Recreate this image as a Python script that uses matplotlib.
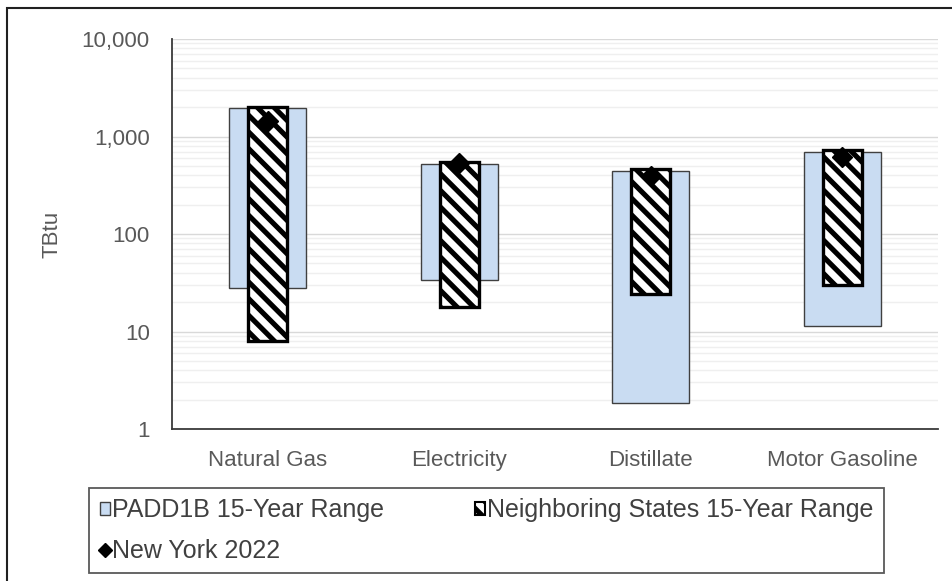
import matplotlib
matplotlib.use("Agg")
import matplotlib.pyplot as plt
import numpy as np
from matplotlib.lines import Line2D
from matplotlib.patches import Patch, Rectangle
from matplotlib.ticker import FuncFormatter, LogLocator

categories = ["Natural Gas", "Electricity", "Distillate", "Motor Gasoline"]

# PADD1B 15-year min/max (TBtu)
padd_low = [28, 34, 1.85, 11.4]
padd_high = [1950, 520, 445, 700]

# Neighboring states 15-year min/max (TBtu)
nbr_low = [8, 18, 24, 30]
nbr_high = [2000, 550, 465, 730]

# New York 2022 (TBtu)
ny_2022 = [1450, 530, 390, 620]

plt.rcParams["font.family"] = ["Liberation Sans", "DejaVu Sans"]
plt.rcParams["hatch.linewidth"] = 3.7

fig = plt.figure(figsize=(9.52, 5.81), dpi=100)
ax = fig.add_axes([172 / 952, 1 - 429 / 581, 766 / 952, 390 / 581])

x = np.arange(len(categories))
padd_h = np.array(padd_high) - np.array(padd_low)
nbr_h = np.array(nbr_high) - np.array(nbr_low)

blue = "#C9DCF2"
ax.bar(x, padd_h, bottom=padd_low, width=0.40, color=blue,
       edgecolor="#404040", linewidth=1.0, zorder=2)
ax.bar(x, nbr_h, bottom=nbr_low, width=0.205, color="white",
       edgecolor="black", linewidth=2.4, hatch="\\\\", zorder=3)
ax.plot(x, ny_2022, linestyle="none", marker="D", markersize=10,
        color="black", zorder=4)

ax.set_yscale("log")
ax.set_ylim(1, 10000)
ax.set_xlim(-0.5, len(categories) - 0.5)
ax.yaxis.set_major_locator(LogLocator(base=10, numticks=10))
ax.yaxis.set_minor_locator(LogLocator(base=10, subs=np.arange(2, 10), numticks=10))
ax.yaxis.set_major_formatter(FuncFormatter(lambda v, p: f"{v:,.0f}"))
ax.yaxis.set_minor_formatter(FuncFormatter(lambda v, p: ""))

ax.grid(which="major", axis="y", color="#D9D9D9", linewidth=1.0, zorder=0)
ax.grid(which="minor", axis="y", color="#EFEFEF", linewidth=1.0, zorder=0)
ax.set_axisbelow(True)

for side in ["top", "right"]:
    ax.spines[side].set_visible(False)
for side in ["left", "bottom"]:
    ax.spines[side].set_color("#3a3a3a")
    ax.spines[side].set_linewidth(1.3)

ax.set_xticks(x)
ax.set_xticklabels(categories)
ax.tick_params(axis="both", which="both", length=0, labelsize=16,
               labelcolor="#595959")
ax.tick_params(axis="y", pad=16)
ax.tick_params(axis="x", pad=15)

ax.set_ylabel("TBtu", fontsize=16, color="#595959")
ax.yaxis.set_label_coords(-0.1436, 0.5)

handles = [
    Patch(facecolor=blue, edgecolor="#404040", linewidth=1.0),
    Line2D([], [], linestyle="none", marker="D", markersize=7, color="black"),
    Patch(facecolor="white", edgecolor="black", linewidth=1.5, hatch="\\\\"),
]
labels = ["PADD1B 15-Year Range", "New York 2022",
          "Neighboring States 15-Year Range"]
leg = fig.legend(handles, labels, ncol=2, loc="upper left",
                 bbox_to_anchor=(89 / 952, 1 - 570 / 581, 795 / 952, 82 / 581),
                 mode="expand", fontsize=18, frameon=True, fancybox=False,
                 edgecolor="#303030", handlelength=0.4, handleheight=0.4,
                 handletextpad=0.08, labelspacing=0.65, borderpad=0.42,
                 borderaxespad=0, labelcolor="#404040")
leg.get_frame().set_linewidth(1.3)

# outer chart-area border
fig.patches.append(Rectangle((7 / 952, -0.02), 1.1, 1 - 8 / 581 + 0.02,
                             transform=fig.transFigure, fill=False,
                             edgecolor="#202020", linewidth=1.5))

fig.savefig("out.png", dpi=100)
